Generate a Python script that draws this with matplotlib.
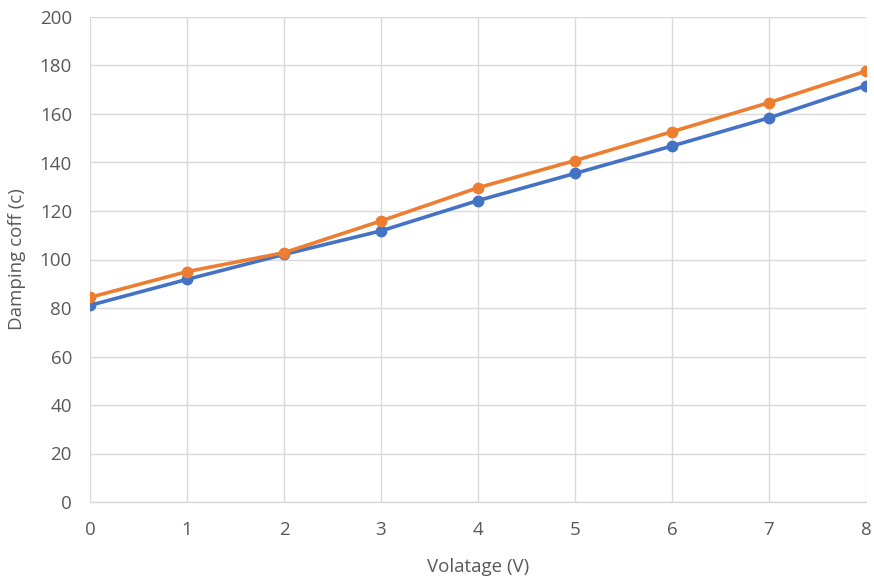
import matplotlib
matplotlib.use("Agg")
import matplotlib.pyplot as plt

voltage = [0, 1, 2, 3, 4, 5, 6, 7, 8]
series_blue = [81.1, 91.8, 102.1, 111.8, 124.3, 135.5, 146.8, 158.4, 171.7]
series_orange = [84.4, 95.0, 102.8, 115.9, 129.6, 140.8, 152.7, 164.7, 177.7]
y_ticks = [0, 20, 40, 60, 80, 100, 120, 140, 160, 180, 200]

plt.rcParams['font.family'] = ['Open Sans', 'DejaVu Sans']

fig = plt.figure(figsize=(8.74, 5.79), dpi=100)
ax = fig.add_axes([90/874, 1 - 502/579, (866-90)/874, (502-17)/579])

ax.plot(voltage, series_blue, color='#4472C4', lw=2.6, marker='o', ms=7.5, zorder=3)
ax.plot(voltage, series_orange, color='#ED7D31', lw=2.6, marker='o', ms=7.5, zorder=4)

ax.set_xlim(0, 8)
ax.set_ylim(0, 200)
ax.set_yticks(y_ticks)
ax.set_xticks(voltage)
ax.grid(True, color='#D9D9D9', lw=1)
ax.set_axisbelow(True)
for s in ['top', 'right', 'left']:
    ax.spines[s].set_visible(False)
ax.spines['bottom'].set_color('#D9D9D9')
ax.spines['bottom'].set_linewidth(1)
ax.tick_params(length=0, colors='#595959', labelsize=13.5)
ax.tick_params(axis='x', pad=14)
ax.tick_params(axis='y', pad=13)
ax.set_xlabel('Volatage (V)', fontsize=13.5, color='#595959', labelpad=13)
ax.set_ylabel('Damping coff (c)', fontsize=13.5, color='#595959', labelpad=10)

fig.savefig('out.png', dpi=100)
